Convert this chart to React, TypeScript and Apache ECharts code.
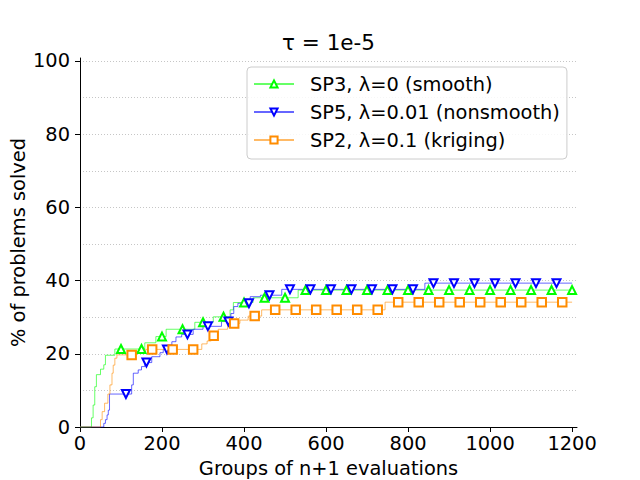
import React, { useEffect, useRef } from "react";
import * as echarts from "echarts";

const FONT = "DejaVu Sans";

const titleText = "τ = 1e-5";
const xName = "Groups of n+1 evaluations";
const yName = "% of problems solved";

const xTicks = [0, 200, 400, 600, 800, 1000, 1200];
const yTicks = [0, 20, 40, 60, 80, 100];
const yGridLines = [10, 20, 30, 40, 50, 60, 70, 80, 90, 100];

const seriesNames = ["SP3, λ=0 (smooth)", "SP5, λ=0.01 (nonsmooth)", "SP2, λ=0.1 (kriging)"];

// SP3 (green) step breakpoints
const sp3X = [0, 28, 32, 36, 40, 50, 58, 62, 85, 158, 185, 210, 280, 325, 366, 374, 422, 532, 1200];
const sp3Y = [0, 2.5, 6, 11, 14.3, 15.8, 17, 19.6, 21.3, 23, 24.7, 26.7, 28.6, 30.1, 32, 34, 35.3, 37.4, 37.4];
const sp3Markers = [100, 150, 200, 250, 300, 350, 400, 450, 500, 550, 600, 650, 700, 750, 800, 850, 900, 950, 1000, 1050, 1100, 1150, 1200];

// SP5 (blue)
const sp5X = [0, 58, 62, 66, 69, 72, 126, 130, 142, 150, 158, 175, 195, 203, 224, 234, 248, 276, 300, 345, 368, 375, 385, 415, 440, 492, 841, 1200];
const sp5Y = [0, 1, 2, 3.3, 4.6, 9, 11.5, 14.7, 15.6, 16.5, 17.6, 19.2, 20.3, 21.2, 23.3, 24.6, 25.3, 26.7, 27.5, 28.8, 31, 32.9, 33.8, 35.6, 36, 37.6, 39.3, 39.3];
const sp5Markers = [112, 162, 212, 262, 312, 362, 412, 462, 512, 562, 612, 662, 712, 762, 812, 862, 912, 962, 1012, 1062, 1112, 1162];

// SP2 (orange)
const sp2X = [0, 50, 54, 60, 68, 73, 78, 81, 85, 90, 138, 160, 297, 310, 320, 337, 360, 390, 410, 443, 744, 1200];
const sp2Y = [0, 2, 4.2, 6.5, 9, 11.5, 14.7, 16.9, 18.8, 19.7, 20.6, 21.2, 22.7, 23.5, 24.9, 26.7, 28.3, 29.2, 30.3, 32, 34.1, 34.1];
const sp2Markers = [126, 176, 226, 276, 326, 376, 426, 476, 526, 576, 626, 676, 726, 776, 826, 876, 926, 976, 1026, 1076, 1126, 1176];

function stepValue(xs: number[], ys: number[], x: number): number {
  let v = ys[0];
  for (let i = 0; i < xs.length; i++) {
    if (xs[i] <= x) v = ys[i];
  }
  return v;
}

function buildData(xs: number[], ys: number[], markers: number[], size: number) {
  const pts: { x: number; y: number; m: boolean }[] = xs.map((x, i) => ({ x, y: ys[i], m: false }));
  markers.forEach((mx) => pts.push({ x: mx, y: stepValue(xs, ys, mx), m: true }));
  pts.sort((a, b) => a.x - b.x || (a.m ? 1 : 0) - (b.m ? 1 : 0));
  return pts.map((p) =>
    p.m ? { value: [p.x, p.y], symbolSize: size } : { value: [p.x, p.y], symbol: "none" }
  );
}

function makeSeries(name: string, color: string, symbol: string, rotate: number, size: number, data: any[]) {
  return {
    type: "line",
    name,
    step: "end",
    data,
    symbol,
    symbolSize: size,
    symbolRotate: rotate,
    showSymbol: true,
    showAllSymbol: true,
    xAxisIndex: 0,
    yAxisIndex: 0,
    lineStyle: { color, width: 1, opacity: 0.6 },
    itemStyle: { color, borderColor: color, borderWidth: 1.5 },
    emphasis: { disabled: true },
    silent: true,
  };
}

export default function App() {
  const ref = useRef<HTMLDivElement>(null);
  useEffect(() => {
    document.body.style.margin = "0";
    if (!ref.current) return;
    const chart = echarts.init(ref.current, undefined, { renderer: "svg" });
    const textBase = { fontFamily: FONT, color: "#000", fontSize: 19.4 };
    const fmt = (v: number) => String(v);
    const option: any = {
      animation: false,
      backgroundColor: "#fff",
      grid: { left: 80, right: 63, top: 58, bottom: 53, containLabel: false, outerBoundsMode: "none" },
      xAxis: {
        type: "value",
        min: 0,
        max: 1212,
        axisLine: { show: true, onZero: false, lineStyle: { color: "#000", width: 1 } },
        axisTick: { show: true, length: 5, customValues: xTicks, lineStyle: { color: "#000", width: 1 } },
        axisLabel: { ...textBase, customValues: xTicks, margin: 7, formatter: fmt },
        splitLine: { show: false },
        name: xName,
        nameLocation: "middle",
        nameGap: 32,
        nameMoveOverlap: false,
        nameTextStyle: { ...textBase },
      },
      yAxis: [
        {
          type: "value",
          min: 0,
          max: 100.8,
          position: "left",
          axisLine: { show: false },
          axisTick: { show: false, customValues: yGridLines },
          axisLabel: { show: false },
          splitLine: { show: true, lineStyle: { color: "#b8b8b8", width: 0.8, type: [1, 2] } },
        },
        {
          type: "value",
          min: 0,
          max: 100.8,
          position: "left",
          axisLine: { show: true, onZero: false, lineStyle: { color: "#000", width: 1 } },
          axisTick: { show: true, length: 5, customValues: yTicks, lineStyle: { color: "#000", width: 1 } },
          axisLabel: { ...textBase, customValues: yTicks, margin: 10, formatter: fmt },
          splitLine: { show: false },
          name: yName,
          nameLocation: "middle",
          nameGap: 52,
          nameRotate: 90,
          nameMoveOverlap: false,
          nameTextStyle: { ...textBase },
        },
      ],
      legend: {
        orient: "vertical",
        left: 247,
        top: 67,
        itemWidth: 40,
        itemHeight: 9,
        itemGap: 8,
        padding: [7, 7, 9, 6],
        borderColor: "#cccccc",
        borderWidth: 1,
        borderRadius: 4,
        backgroundColor: "rgba(255,255,255,0.85)",
        selectedMode: false,
        textStyle: { ...textBase, lineHeight: 20, padding: [0, 0, 0, 11] },
        data: seriesNames,
      },
      graphic: [
        {
          type: "text",
          x: 328.5,
          y: 42,
          style: {
            text: titleText,
            fontFamily: FONT,
            fontSize: 21.5,
            fill: "#000",
            align: "center",
            verticalAlign: "middle",
            textAlign: "center",
            textVerticalAlign: "middle",
          },
        },
      ],
      series: [
        makeSeries(seriesNames[0], "#00ff00", "emptyTriangle", 0, 8, buildData(sp3X, sp3Y, sp3Markers, 8)),
        makeSeries(seriesNames[1], "#0000ff", "emptyTriangle", 180, 8, buildData(sp5X, sp5Y, sp5Markers, 8)),
        makeSeries(seriesNames[2], "#ff8c00", "emptyRect", 0, 8.5, buildData(sp2X, sp2Y, sp2Markers, 8.5)),
      ],
    };
    chart.setOption(option);
    return () => chart.dispose();
  }, []);
  return <div ref={ref} style={{ width: 640, height: 480 }} />;
}
